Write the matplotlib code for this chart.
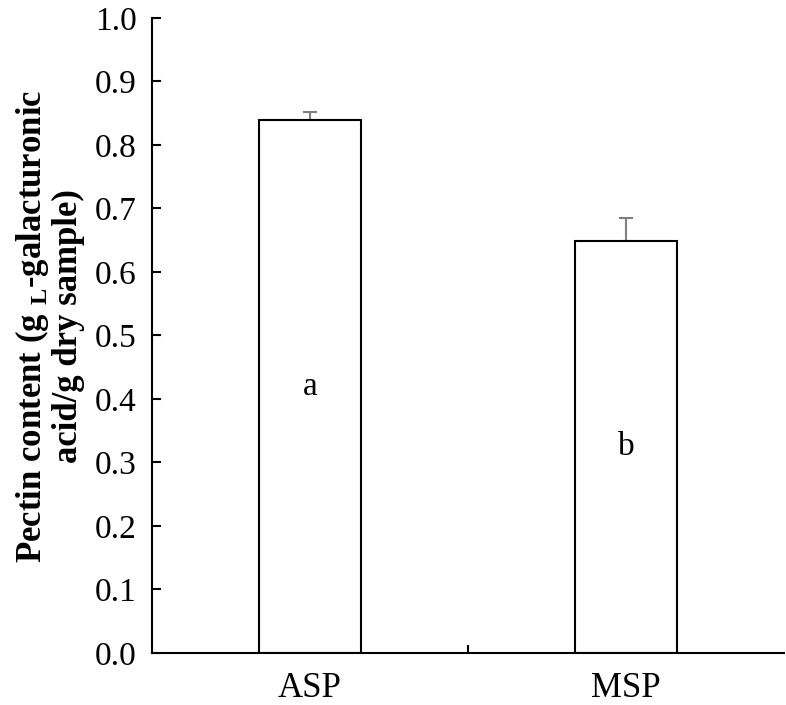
import matplotlib
matplotlib.use('Agg')
import matplotlib.pyplot as plt

# Data
samples = ['ASP', 'MSP']
pectin = [0.84, 0.648]
pectin_err = [0.012, 0.037]
letters = ['a', 'b']
y_ticks = [0.0, 0.1, 0.2, 0.3, 0.4, 0.5, 0.6, 0.7, 0.8, 0.9, 1.0]

plt.rcParams['font.family'] = ['Liberation Serif', 'DejaVu Serif']
plt.rcParams['mathtext.fontset'] = 'custom'
plt.rcParams['mathtext.rm'] = 'Liberation Serif'
plt.rcParams['mathtext.bf'] = 'Liberation Serif:bold'

fig = plt.figure(figsize=(7.86, 7.05), dpi=100)
ax = fig.add_axes([0.1934, 0.0738, 0.8041, 0.9007])

x = range(len(samples))
ax.bar(x, pectin, width=0.32, color='white', edgecolor='black', linewidth=1.5, zorder=2)
ax.errorbar(x, pectin, yerr=[[0, 0], pectin_err], fmt='none', ecolor='#7f7f7f',
            elinewidth=1.5, capsize=5, capthick=1.5, zorder=1)

# significance letters in the middle of each bar
for xi, val, lab in zip(x, pectin, letters):
    ax.text(xi, val / 2, lab, ha='center', va='center', fontsize=24)

ax.set_xlim(-0.5, 1.5)
ax.set_ylim(0, 1.0)
ax.set_yticks(y_ticks)
ax.set_yticklabels([f'{t:.1f}' for t in y_ticks])

# categories labelled without ticks, one separator tick in between
ax.set_xticks([0.5])
ax.set_xticklabels([''])
ax.set_xticks(list(x), minor=True)
ax.set_xticklabels(samples, minor=True)
ax.tick_params(axis='x', which='major', direction='in', length=6, width=1.5)
ax.tick_params(axis='x', which='minor', length=0, pad=14, labelsize=25)
ax.tick_params(axis='y', direction='in', length=6.5, width=1.5, pad=11, labelsize=24)

for side in ['top', 'right']:
    ax.spines[side].set_visible(False)
for side in ['left', 'bottom']:
    ax.spines[side].set_linewidth(1.5)

ax.set_ylabel('Pectin content (g $_{\\mathbf{L}}$-galacturonic\nacid/g dry sample)',
              fontsize=25, fontweight='bold', linespacing=1.05)
ax.yaxis.set_label_coords(-0.106, 0.515)

plt.savefig('out.png', dpi=100)
